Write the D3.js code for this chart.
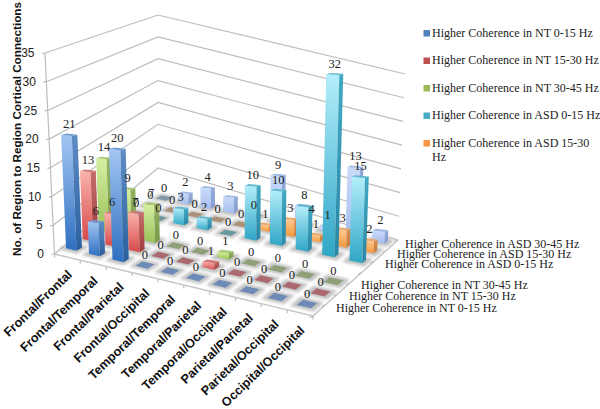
<!DOCTYPE html>
<html>
<head>
<meta charset="utf-8">
<script src="https://cdn.jsdelivr.net/npm/d3@7/dist/d3.min.js"></script>
<style>
html,body{margin:0;padding:0;background:#fff;}
svg{display:block;}
</style>
</head>
<body>
<svg id="chart" width="600" height="409"></svg>
<script>
// ---------- data ----------
const categories = ["Frontal/Frontal","Frontal/Temporal","Frontal/Parietal","Frontal/Occipital","Temporal/Temporal","Temporal/Parietal","Temporal/Occipital","Parietal/Parietal","Parietal/Occipital","Occipital/Occipital"];
const rowNames = ["Higher Coherence in NT 0-15 Hz","Higher Coherence in NT 15-30 Hz","Higher Coherence in NT 30-45 Hz"," ","Higher Coherence in ASD 0-15 Hz","Higher Coherence in ASD 15-30 Hz","Higher Coherence in ASD 30-45 Hz"];
const valuesNT0 = [21,6,20,0,0,0,0,0,0,0];
const valuesNT15 = [13,6,7,0,0,1,0,0,0,0];
const valuesNT30 = [14,9,7,0,0,1,0,0,0,0];
const valuesASD0 = [0,0,3,2,0,10,10,8,32,15];
const valuesASD15 = [0,0,0,0,0,1,3,1,3,2];
const valuesASD30 = [0,2,4,3,0,9,4,1,13,2];
const yTicks = [0,5,10,15,20,25,30,35];
const legendLines = [["Higher Coherence in NT 0-15 Hz"],["Higher Coherence in NT 15-30 Hz"],["Higher Coherence in NT 30-45 Hz"],["Higher Coherence in ASD 0-15 Hz"],["Higher Coherence in ASD 15-30","Hz"]];

// ---------- styles ----------
const styles = [
 {row:0,vals:valuesNT0, id:"a",faceT:"#a3c6f3",faceB:"#2e6fc0",sideT:"#5f8dc6",sideB:"#2a5f9e",cap:"#6f9bd3",tile:"#6e8ab6",sw:"#4f81bd"},
 {row:1,vals:valuesNT15,id:"b",faceT:"#f9b4ac",faceB:"#d8484a",sideT:"#c46e6c",sideB:"#a03a3a",cap:"#d07a78",tile:"#ab6a70",sw:"#c0504d"},
 {row:2,vals:valuesNT30,id:"c",faceT:"#d8efa2",faceB:"#98c258",sideT:"#94b360",sideB:"#78984a",cap:"#a9c97a",tile:"#8fa078",sw:"#9bbb59"},
 {row:4,vals:valuesASD0,id:"d",faceT:"#b4eefb",faceB:"#2fa6c6",sideT:"#44a9c3",sideB:"#2987a6",cap:"#62b7ce",tile:"#66989e",sw:"#4bacc6"},
 {row:5,vals:valuesASD15,id:"e",faceT:"#fdcb96",faceB:"#f4983a",sideT:"#dc8e4e",sideB:"#c97a38",cap:"#e9aa6c",tile:"#ab9078",sw:"#f79646"},
 {row:6,vals:valuesASD30,id:"f",faceT:"#cadafa",faceB:"#a6beee",sideT:"#93abd9",sideB:"#849dcf",cap:"#9db7e2",tile:"#8296aa",sw:"#7f9fd6"}
];
// hand-placed data label offsets, as in the reference: "row,category" -> [dx,dy]
const labelNudge = {"6,6":[9,14]};

const svg = d3.select("#chart");
const defs = svg.append("defs");
const blur = (id,sd)=>defs.append("filter").attr("id",id).attr("x","-50%").attr("y","-50%").attr("width","200%").attr("height","200%")
  .append("feGaussianBlur").attr("stdDeviation",sd);
blur("soft",1.5); blur("tiny",0.7);
function grad(id,c1,c2){
  const g=defs.append("linearGradient").attr("id",id).attr("x1",0).attr("y1",0).attr("x2",0).attr("y2",1);
  g.append("stop").attr("offset","0%").attr("stop-color",c1);
  g.append("stop").attr("offset","100%").attr("stop-color",c2);
}
styles.forEach(s=>{grad("face"+s.id,s.faceT,s.faceB);grad("side"+s.id,s.sideT,s.sideB);});

// ---------- scales ----------
const xScale = d3.scalePoint().domain(categories).range([0,1]);
const zScale = d3.scalePoint().domain(rowNames).range([0,1]);
const heightScale = d3.scaleLinear().domain([0,35]).range([0,-0.0477]);
const catHalf = 1/(categories.length-1);
const rowHalf = 1/(rowNames.length-1);

// projective map of the bar floor
const q = [[74,248],[307,304],[380,241],[164,198]];
const dx1=q[1][0]-q[2][0],dx2=q[3][0]-q[2][0],sx=q[0][0]-q[1][0]+q[2][0]-q[3][0];
const dy1=q[1][1]-q[2][1],dy2=q[3][1]-q[2][1],sy=q[0][1]-q[1][1]+q[2][1]-q[3][1];
const den=dx1*dy2-dx2*dy1;
const G=(sx*dy2-dx2*sy)/den,Hh=(dx1*sy-sx*dy1)/den;
const A=q[1][0]-q[0][0]+G*q[1][0],B=q[3][0]-q[0][0]+Hh*q[3][0],C=q[0][0];
const D=q[1][1]-q[0][1]+G*q[1][1],E=q[3][1]-q[0][1]+Hh*q[3][1],F=q[0][1];
const vp=[235.7,4088];
function project(s,t,v){
  const k=heightScale(v);
  const W=G*s+Hh*t+1+k;
  return [(A*s+B*t+C+k*vp[0])/W,(D*s+E*t+F+k*vp[1])/W];
}
const poly = pts=>pts.map(p=>p[0].toFixed(2)+","+p[1].toFixed(2)).join(" ");

// wall edge scales
const leftX=d3.scaleLinear().domain([0,35]).range([54.5,45]), leftY=d3.scaleLinear().domain([0,35]).range([254,53]);
const backX=d3.scaleLinear().domain([0,35]).range([158,158]), backY=d3.scaleLinear().domain([0,35]).range([168,15]);
const rightX=d3.scaleLinear().domain([0,35]).range([398,405]), rightY=d3.scaleLinear().domain([0,35]).range([240,74]);

const grid="#bdbdbd";
const gWall=svg.append("g").attr("fill","none").attr("stroke",grid).attr("stroke-width",1.2);
yTicks.forEach(t=>{
  gWall.append("polyline").attr("points",poly([[leftX(t),leftY(t)],[backX(t),backY(t)],[rightX(t),rightY(t)]]));
  gWall.append("line").attr("x1",leftX(t)-3).attr("y1",leftY(t)+0.5).attr("x2",leftX(t)).attr("y2",leftY(t));
});
gWall.append("line").attr("x1",leftX(0)).attr("y1",leftY(0)).attr("x2",leftX(35)).attr("y2",leftY(35));

// floor edges
const FL=[54.5,254],FR=[313,316],BR=[398,240];
const edgeX=d3.scaleLinear().domain([0,categories.length]).range([FL[0],FR[0]]);
const edgeY=d3.scaleLinear().domain([0,categories.length]).range([FL[1],FR[1]]);
const sideX=d3.scaleLinear().domain([0,rowNames.length]).range([FR[0],BR[0]]);
const sideY=d3.scaleLinear().domain([0,rowNames.length]).range([FR[1],BR[1]]);
const gFloor=svg.append("g").attr("fill","none").attr("stroke","#c4c4c4").attr("stroke-width",1.4);
gFloor.append("polyline").attr("points",poly([FL,FR,BR]));
d3.range(categories.length+1).forEach(i=>gFloor.append("line").attr("x1",edgeX(i)).attr("y1",edgeY(i)).attr("x2",edgeX(i)).attr("y2",edgeY(i)+3.5));
d3.range(rowNames.length+1).forEach(i=>gFloor.append("line").attr("x1",sideX(i)).attr("y1",sideY(i)).attr("x2",sideX(i)-3.5).attr("y2",sideY(i)+1.5));

// ---------- bars ----------
const halfU=0.23, halfW=0.16, capFlat=0.6;
const gBars=svg.append("g");
const gLabels=svg.append("g").attr("font-family","'Liberation Serif',serif").attr("font-size",12.5).attr("fill","#222").attr("text-anchor","middle");
[...styles].sort((a,b)=>b.row-a.row).forEach(s=>{
  const t0=zScale(rowNames[s.row]);
  categories.forEach((cat,i)=>{
    const v=s.vals[i], c0=xScale(cat);
    const corner=(du,dw,val)=>project(c0+du*catHalf,t0+dw*rowHalf,val);
    // floor shadow
    const sh=0.4, shw=0.38;
    gBars.append("polygon").attr("points",poly([corner(-sh,-shw,0),corner(sh,-shw,0),corner(sh,shw,0),corner(-sh,shw,0)]))
      .attr("fill","#a8a8a8").attr("opacity",0.72).attr("filter","url(#soft)");
    const top=project(c0,t0,v);
    if(v===0){
      const h=0.24,hw=0.22;
      gBars.append("polygon").attr("points",poly([corner(-h,-hw,0),corner(h,-hw,0),corner(h,hw,0),corner(-h,hw,0)]))
        .attr("fill",s.tile).attr("filter","url(#tiny)");
    } else {
      const flat=p=>[p[0],top[1]+(p[1]-top[1])*capFlat];
      const a=corner(-halfU,-halfW,0),b=corner(halfU,-halfW,0),c=corner(halfU,halfW,0);
      const ta=flat(corner(-halfU,-halfW,v)),tb=flat(corner(halfU,-halfW,v)),tc=flat(corner(halfU,halfW,v)),td=flat(corner(-halfU,halfW,v));
      gBars.append("polygon").attr("points",poly([a,b,tb,ta])).attr("fill",`url(#face${s.id})`);
      gBars.append("polygon").attr("points",poly([b,c,tc,tb])).attr("fill",`url(#side${s.id})`);
      gBars.append("polygon").attr("points",poly([ta,tb,tc,td])).attr("fill",s.cap);
    }
    const n=labelNudge[s.row+","+i]||[0,0];
    gLabels.append("text").attr("x",top[0]+n[0]).attr("y",top[1]-6.5+n[1]).text(v);
  });
});

// ---------- y axis labels and title ----------
const gY=svg.append("g").attr("font-family","'Liberation Sans',sans-serif").attr("font-size",12).attr("fill","#222").attr("text-anchor","end");
yTicks.forEach(t=>gY.append("text").attr("x",leftX(t)-10.5).attr("y",leftY(t)+1).attr("dominant-baseline","middle").text(t));
svg.append("text").attr("transform","translate(21,129) rotate(-90)").attr("text-anchor","middle")
  .attr("font-family","'Liberation Sans',sans-serif").attr("font-weight","bold").attr("font-size",11.7).attr("fill","#111")
  .text("No. of Region to Region Cortical Connections");

// ---------- category labels ----------
const gCat=svg.append("g").attr("font-family","'Liberation Sans',sans-serif").attr("font-weight","bold").attr("font-size",12.6).attr("fill","#111").attr("text-anchor","end");
categories.forEach((c,i)=>{
  const px=edgeX(i+0.5)+3, py=edgeY(i+0.5)+16;
  gCat.append("text").attr("transform",`translate(${px},${py}) rotate(-44)`).attr("dominant-baseline","middle").text(c);
});

// ---------- series (depth) labels ----------
const rowLabelX=[336,349,361,0,385,397,405], rowLabelY=[309,297,286,0,265,255,245];
const serif="'Liberation Serif',serif";
const gRow=svg.append("g").attr("font-family",serif).attr("font-size",12).attr("fill","#222");
rowNames.forEach((n,i)=>{ if(n.trim()) gRow.append("text").attr("x",rowLabelX[i]).attr("y",rowLabelY[i]).attr("dominant-baseline","middle").text(n); });

// ---------- legend ----------
const legendY=d3.scaleLinear().domain([0,4]).range([34,144]);
const gLeg=svg.append("g").attr("font-family",serif).attr("font-size",12).attr("fill","#222");
legendLines.forEach((lines,i)=>{
  gLeg.append("rect").attr("x",423.5).attr("y",legendY(i)-4).attr("width",6.5).attr("height",6.5).attr("fill",styles[i].sw);
  lines.forEach((l,j)=>gLeg.append("text").attr("x",432).attr("y",legendY(i)+j*14).attr("dominant-baseline","middle").text(l));
});
</script>
</body>
</html>
